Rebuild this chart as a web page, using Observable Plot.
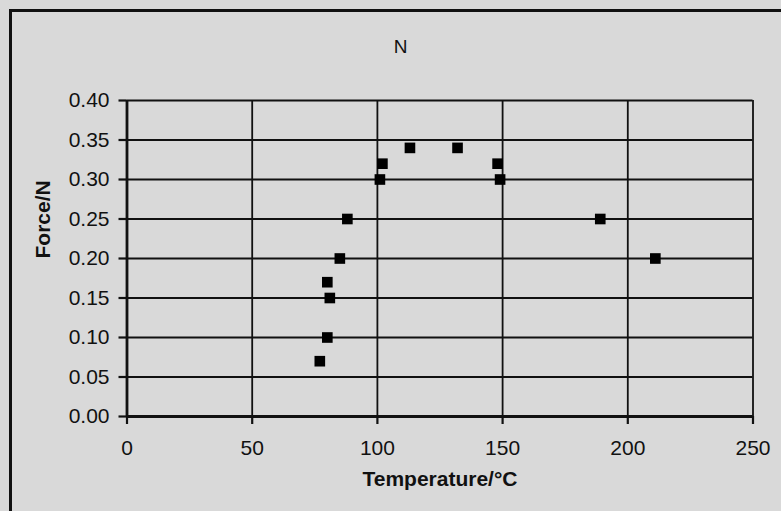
<!DOCTYPE html>
<html>
<head>
<meta charset="utf-8">
<script src="https://cdn.jsdelivr.net/npm/d3@7"></script>
<script src="https://cdn.jsdelivr.net/npm/@observablehq/plot@0.6"></script>
<style>
  html, body { margin: 0; padding: 0; background: #d9d9d9; overflow: hidden; }
  #wrap { position: relative; width: 781px; height: 511px; }
  #border {
    position: absolute; left: 9px; top: 9px; width: 800px; height: 600px;
    border-left: 3px solid #111; border-top: 3px solid #111;
    pointer-events: none;
  }
</style>
</head>
<body>
<div id="wrap"><div id="border"></div></div>
<script>
// Measured force against temperature
const temperature = [77, 80, 80, 81, 85, 88, 101, 102, 113, 132, 148, 149, 189, 211];
const force = [0.07, 0.10, 0.17, 0.15, 0.20, 0.25, 0.30, 0.32, 0.34, 0.34, 0.32, 0.30, 0.25, 0.20];

const xTicks = [0, 50, 100, 150, 200, 250];
const yTicks = [0, 0.05, 0.10, 0.15, 0.20, 0.25, 0.30, 0.35, 0.40];

const title = "N";
const xLabel = "Temperature/°C";
const yLabel = "Force/N";

const points = temperature.map((t, i) => ({temperature: t, force: force[i]}));

const ink = "#111";

const chart = Plot.plot({
  width: 781,
  height: 511,
  marginLeft: 126.5,
  marginRight: 28.5,
  marginTop: 100,
  marginBottom: 95,
  style: {
    background: "transparent",
    fontFamily: "'Liberation Sans', Arial, sans-serif",
    fontSize: "21px",
    color: ink
  },
  x: {domain: [0, 250]},
  y: {domain: [0, 0.4]},
  marks: [
    Plot.gridX(xTicks, {stroke: ink, strokeOpacity: 1, strokeWidth: 1.8}),
    Plot.gridY(yTicks, {stroke: ink, strokeOpacity: 1, strokeWidth: 1.8}),
    Plot.ruleX([0], {stroke: ink, strokeWidth: 2.8}),
    Plot.ruleY([0], {stroke: ink, strokeWidth: 2.8}),
    Plot.axisX(xTicks, {
      tickSize: 8, tickPadding: 16, strokeWidth: 2.2, stroke: ink,
      fill: ink, fontSize: 21, label: null
    }),
    Plot.axisY(yTicks, {
      tickSize: 8, tickPadding: 9.5, strokeWidth: 2.2, stroke: ink,
      fill: ink, fontSize: 21, tickFormat: d3.format(".2f"), label: null
    }),
    Plot.dot(points, {
      x: "temperature", y: "force", symbol: "square", r: 6, fill: "#000", stroke: "none"
    }),
    // the title sits centred on the whole chart box, left of the plot centre
    Plot.text([title], {frameAnchor: "top", dx: -39.5, dy: -61.5, fontSize: 19, fill: ink}),
    Plot.text([xLabel], {frameAnchor: "bottom", dy: 69.5, fontSize: 21, fontWeight: "bold", fill: ink}),
    Plot.text([yLabel], {frameAnchor: "left", dx: -83.5, rotate: -90, fontSize: 21, fontWeight: "bold", fill: ink})
  ]
});

document.getElementById("wrap").prepend(chart);
</script>
</body>
</html>
